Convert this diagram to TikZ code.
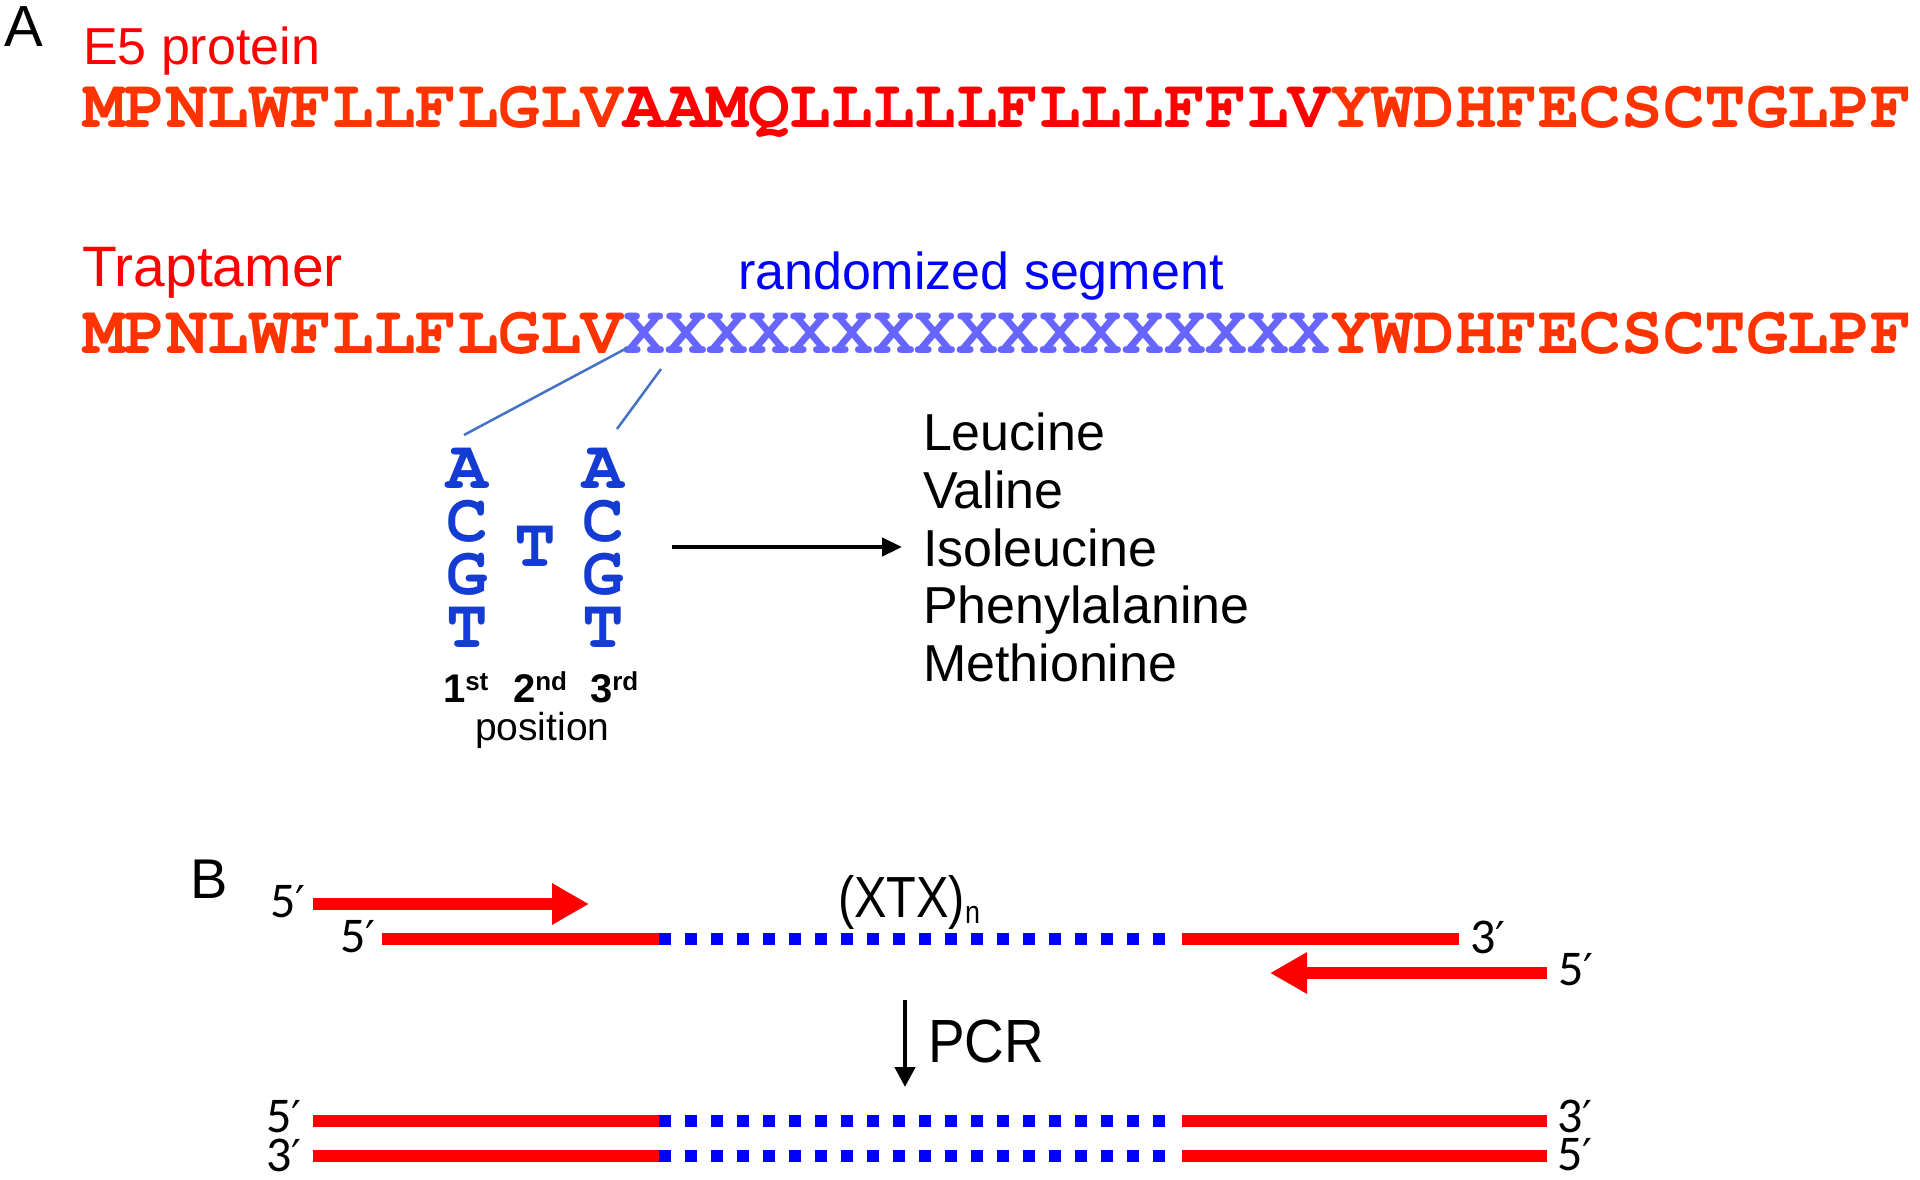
\documentclass[tikz,border=0pt]{standalone}
\usepackage{fontspec}
\setmainfont{Liberation Sans}
\newfontfamily\seqfont{TeX Gyre Cursor}
\newfontfamily\primefont{Carlito}
\newfontfamily\dvfont{DejaVu Sans}
\newfontfamily\narrowA{Liberation Sans}[FakeStretch=0.84]
\newfontfamily\narrowB{Liberation Sans}[FakeStretch=0.9]
\usetikzlibrary{arrows.meta}
\definecolor{seqor}{RGB}{255,51,0}
\definecolor{seqred}{RGB}{255,0,0}
\definecolor{xblue}{RGB}{102,102,255}
\definecolor{ntblue}{RGB}{20,60,210}
\definecolor{lineblue}{RGB}{68,114,196}
\definecolor{dnablue}{RGB}{0,0,255}
\newcommand{\fsz}[1]{\fontsize{#1pt}{#1pt}\selectfont}
\newcommand{\mysup}[1]{{\fsz{26}\raisebox{12pt}{#1}}}
\newcommand{\pr}{{\dvfont\fsz{44}′}}
\begin{document}
\begin{tikzpicture}[x=1pt,y=-1pt,
  lbl/.style={inner sep=0pt, outer sep=0pt, anchor=base west},
  seqtxt/.style={lbl, font=\seqfont\bfseries\fsz{69.3}},
  nt/.style={inner sep=0pt, outer sep=0pt, anchor=base, font=\seqfont\bfseries\fsz{69.3}, text=ntblue},
  ord/.style={lbl, font=\bfseries\fsz{40}},
  aa/.style={lbl, font=\fsz{52}},
  primelbl/.style={lbl, font=\primefont\fsz{50}},
  connector/.style={draw=lineblue, line width=2.5pt},
  blkarrow/.style={draw=black, line width=4.5pt, -{Triangle[length=20pt,width=18pt]}},
  pcrarrow/.style={draw=black, line width=4.5pt, -{Triangle[length=20pt,width=20pt]}},
  primer/.style={draw=seqred, line width=12pt, -{Triangle[length=37pt,width=39pt]}},
  strand/.style={draw=seqred, line width=12pt},
  randseg/.style={draw=dnablue, line width=12pt, dash pattern=on 12pt off 14pt}
]
\fill[white] (0,0) rectangle (1920,1180);
\useasboundingbox (0,0) rectangle (1920,1180);

% ---------- Panel A ----------
\node[lbl, font=\fsz{58}] (labA) at (5,47) {A};
\node[lbl, font=\fsz{52}, text=seqred] (e5) at (83,65) {E5 protein};
\node[seqtxt] (seq1) at (83,128) {\textcolor{seqor}{MPNLWFLLFLGLV}\textcolor{seqred}{AAMQLLLLLFLLLFFLV}\textcolor{seqor}{YWDHFECSCTGLPF}};

\node[lbl, font=\fsz{57}, text=seqred] (trap) at (82,286) {Traptamer};
\node[lbl, font=\fsz{52}, text=dnablue] (rand) at (738,289) {randomized segment};
\node[seqtxt] (seq2) at (83,353) {\textcolor{seqor}{MPNLWFLLFLGLV}\textcolor{xblue}{XXXXXXXXXXXXXXXXX}\textcolor{seqor}{YWDHFECSCTGLPF}};

% codon columns
\node[nt] (n1a) at (467,488) {A};
\node[nt] (n1c) at (467,541) {C};
\node[nt] (n1g) at (467,594) {G};
\node[nt] (n1t) at (467,647) {T};
\node[nt] (n2t) at (535,566) {T};
\node[nt] (n3a) at (603,488) {A};
\node[nt] (n3c) at (603,541) {C};
\node[nt] (n3g) at (603,594) {G};
\node[nt] (n3t) at (603,647) {T};

\coordinate (xa) at (627,348);
\coordinate (ca) at (464,435);
\coordinate (xb) at (661,369);
\coordinate (cb) at (617,429);
\draw[connector] (xa) -- (ca);
\draw[connector] (xb) -- (cb);

\node[ord] (o1) at (443,702) {1\mysup{st}};
\node[ord] (o2) at (513,702) {2\mysup{nd}};
\node[ord] (o3) at (590,702) {3\mysup{rd}};
\node[lbl, font=\fsz{39}] (pos) at (475,740) {position};

\coordinate (arA) at (672,547);
\coordinate (arB) at (902,547);
\draw[blkarrow] (arA) -- (arB);

\node[aa] (leu) at (923,450) {Leucine};
\node[aa] (val) at (923,508) {Valine};
\node[aa] (ile) at (923,566) {Isoleucine};
\node[aa] (phe) at (923,623) {Phenylalanine};
\node[aa] (met) at (923,681) {Methionine};

% ---------- Panel B ----------
\node[lbl, font=\fsz{56}] (labB) at (190,898) {B};

\coordinate (p1s) at (313,904);
\coordinate (p1e) at (589,904);
\draw[primer] (p1s) -- (p1e);
\node[primelbl] (p1l) at (270,917) {5\pr};

\coordinate (t1) at (382,939);
\coordinate (t2) at (659,939);
\coordinate (t3) at (1165,939);
\coordinate (t4) at (1182,939);
\coordinate (t5) at (1459,939);
\draw[strand] (t1) -- (t2);
\draw[randseg] (t2) -- (t3);
\draw[strand] (t4) -- (t5);
\node[primelbl] (t5l) at (340,952) {5\pr};
\node[primelbl] (t3l) at (1470,953) {3\pr};
\node[lbl, font=\narrowA\fsz{58}] (xtx) at (838,917) {(XTX)\raisebox{-6pt}{\fsz{32}n}};

\coordinate (p2s) at (1547,973);
\coordinate (p2e) at (1270,973);
\draw[primer] (p2s) -- (p2e);
\node[primelbl] (p2l) at (1558,985) {5\pr};

\coordinate (pcrS) at (905,1000);
\coordinate (pcrE) at (905,1087);
\draw[pcrarrow] (pcrS) -- (pcrE);
\node[lbl, font=\narrowB\fsz{61}] (pcr) at (928,1062) {PCR};

\foreach \yy/\nm in {1121/u,1156/d}{
  \coordinate (\nm1) at (313,\yy);
  \coordinate (\nm2) at (659,\yy);
  \coordinate (\nm3) at (1165,\yy);
  \coordinate (\nm4) at (1182,\yy);
  \coordinate (\nm5) at (1547,\yy);
  \draw[strand] (\nm1) -- (\nm2);
  \draw[randseg] (\nm2) -- (\nm3);
  \draw[strand] (\nm4) -- (\nm5);
}
\node[primelbl] (bl5) at (266,1132) {5\pr};
\node[primelbl] (bl3) at (266,1171) {3\pr};
\node[primelbl] (br3) at (1557,1132) {3\pr};
\node[primelbl] (br5) at (1557,1170) {5\pr};
\end{tikzpicture}
\end{document}
